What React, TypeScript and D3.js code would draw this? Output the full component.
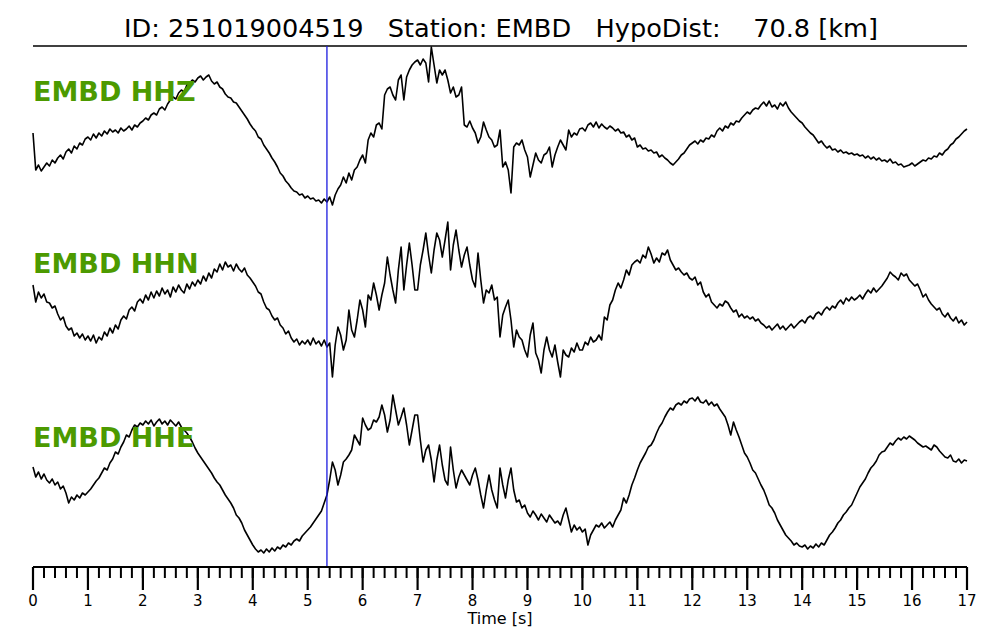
import React from "react";
import * as d3 from "d3";

const TITLE = "ID: 251019004519   Station: EMBD   HypoDist:    70.8 [km]";
const CHANNELS = ["EMBD HHZ", "EMBD HHN", "EMBD HHE"];
const SAMPLE_DT = 0.05; // s
const P_PICK = 5.35; // s
const T_MAX = 17;
const MAJOR_TICKS = d3.range(0, 18, 1);
const MINOR_TICKS = d3.range(0, 85.5, 1).map((i) => i * 0.2);

// amplitude (arbitrary counts, relative to trace centre), sampled every 0.05 s
const HHZ = [
  -8, -45, -40, -46, -42, -38, -41, -35, -38, -33, -30, -34, -27, -24, -28, -21, -24, -18, -20, -14,
  -12, -15, -9, -13, -8, -11, -6, -9, -4, -7, -5, -8, -3, -6, -4, -1, -5, 0, -2, 2,
  4, 7, 5, 10, 12, 10, 16, 18, 15, 21, 25, 28, 26, 32, 35, 33, 40, 42, 45, 43,
  47, 49, 45, 48, 50, 44, 41, 43, 38, 36, 31, 28, 27, 23, 22, 18, 14, 10, 6, 1,
  -3, -6, -12, -14, -20, -24, -28, -33, -37, -42, -48, -51, -56, -59, -63, -66, -67, -70, -69, -73,
  -71, -74, -73, -76, -75, -78, -74, -77, -72, -80, -70, -64, -60, -52, -58, -48, -55, -45, -42, -35,
  -30, -38, -15, -8, -12, 0, 2, -4, 30, 36, 38, 30, 25, 45, 50, 25, 48, 55, 60, 63,
  65, 60, 66, 62, 43, 78, 60, 42, 55, 50, 55, 45, 32, 38, 28, 30, 38, 0, -2, 4,
  -3, -8, -18, -12, 3, -5, -12, -15, -22, -20, -5, -42, -37, -45, -68, -22, -18, -20, -15, -25,
  -32, -52, -40, -28, -35, -38, -30, -28, -22, -42, -30, -22, -15, -20, -25, -5, -12, -8, -10, -4,
  -3, -6, 0, 2, -2, 3, -3, 1, -2, -4, -1, -3, -6, -4, -8, -7, -12, -10, -15, -13,
  -22, -20, -24, -23, -26, -25, -28, -27, -32, -30, -33, -35, -38, -40, -37, -34, -30, -28, -24, -20,
  -18, -16, -19, -15, -17, -13, -14, -10, -12, -6, -3, -6, -1, -3, 2, 0, 4, 3, 7, 10,
  13, 11, 15, 17, 16, 20, 23, 19, 24, 18, 20, 16, 22, 19, 23, 17, 13, 10, 7, 4,
  2, -2, -5, -8, -10, -14, -18, -16, -20, -23, -21, -25, -24, -27, -25, -28, -27, -29, -28, -30,
  -29, -31, -30, -33, -31, -34, -32, -35, -33, -36, -35, -37, -34, -38, -37, -40, -39, -42, -41, -40,
  -38, -41, -39, -37, -35, -36, -33, -34, -31, -32, -28, -30, -26, -24, -20, -18, -14, -12, -9, -6,
  -4,
];

const HHN = [
  15, -2, 8, 2, 6, -2, -3, -8, -6, -14, -20, -17, -26, -30, -28, -36, -33, -38, -34, -40,
  -36, -41, -35, -43, -37, -40, -32, -36, -28, -33, -25, -29, -20, -16, -19, -10, -7, -11, -2, 1,
  -3, 5, 0, 8, 2, 9, 4, 12, 6, 10, 3, 13, 8, 15, 10, 7, 16, 11, 18, 14,
  20, 16, 24, 19, 27, 22, 31, 28, 36, 30, 38, 33, 35, 29, 36, 31, 28, 32, 25, 22,
  18, 14, 8, 6, -2, -8, -10, -16, -20, -18, -25, -28, -34, -31, -38, -42, -39, -45, -41, -44,
  -40, -45, -38, -44, -41, -46, -40, -47, -43, -77, -45, -27, -35, -50, -40, -10, -30, -37, -20, 0,
  -10, -27, 5, 0, 17, 5, -10, 5, 17, 43, 25, 10, -3, 30, 53, 10, 35, 57, 35, 10,
  10, 35, 50, 67, 45, 27, 50, 67, 60, 43, 60, 78, 30, 55, 70, 50, 33, 45, 53, 35,
  20, 13, 47, 20, -3, 10, 7, 15, 0, 3, -37, -15, -7, 0, -20, -47, -30, -37, -40, -50,
  -57, -35, -23, -53, -60, -73, -50, -37, -50, -57, -45, -62, -77, -50, -55, -57, -48, -52, -43, -50,
  -50, -42, -45, -37, -42, -40, -35, -40, -17, -20, -5, 0, 10, 17, 12, 20, 30, 25, 35, 38,
  40, 37, 45, 42, 53, 46, 37, 42, 38, 47, 45, 50, 40, 35, 30, 32, 28, 25, 27, 22,
  20, 23, 15, 18, 8, 3, 6, -2, -5, -8, -4, -6, -1, -3, -8, -12, -10, -17, -14, -18,
  -16, -19, -17, -21, -19, -23, -25, -28, -26, -30, -27, -24, -29, -26, -30, -27, -24, -28, -25, -22,
  -20, -23, -18, -16, -19, -14, -12, -15, -10, -7, -10, -6, -8, -3, 0, -4, 2, -1, 3, 0,
  2, 5, 1, 6, 10, 7, 12, 8, 11, 14, 18, 22, 28, 25, 23, 20, 27, 24, 26, 20,
  17, 14, 16, 10, 3, 6, 0, -4, -7, -10, -8, -14, -17, -13, -18, -21, -17, -23, -20, -25,
  -22,
];

const HHE = [
  8, -2, 3, -4, 1, -5, -8, -4, -10, -7, -14, -11, -18, -28, -22, -25, -20, -23, -18, -20,
  -17, -14, -10, -6, -3, 2, 7, 5, 12, 16, 23, 21, 28, 33, 40, 38, 45, 50, 48, 52,
  50, 54, 51, 55, 49, 53, 56, 51, 54, 50, 55, 52, 49, 53, 48, 45, 42, 38, 33, 27,
  22, 18, 14, 10, 6, 2, -3, -7, -10, -15, -20, -24, -28, -33, -40, -43, -48, -55, -60, -65,
  -70, -74, -77, -75, -78, -74, -77, -73, -76, -72, -74, -70, -72, -68, -70, -66, -64, -66, -61, -58,
  -55, -52, -48, -44, -40, -36, -28, -20, -5, 13, 5, -10, 0, 13, 16, 20, 25, 40, 35, 30,
  57, 50, 45, 47, 55, 53, 58, 70, 60, 43, 55, 80, 65, 50, 58, 67, 50, 30, 45, 60,
  60, 35, 13, 25, 30, 15, -7, 15, 30, 10, -5, -10, 28, 5, -13, -2, 5, 0, -5, -10,
  0, 7, -5, -20, -33, -15, 0, -15, -25, -33, 7, -10, -23, -5, 7, -15, -27, -25, -33, -30,
  -38, -42, -36, -40, -45, -39, -43, -47, -40, -44, -48, -46, -50, -40, -33, -45, -57, -50, -55, -52,
  -57, -54, -70, -60, -55, -50, -52, -48, -53, -50, -47, -52, -45, -40, -35, -23, -28, -20, -10, -3,
  5, 12, 17, 22, 28, 30, 35, 42, 48, 52, 58, 63, 67, 65, 70, 72, 70, 74, 72, 76,
  77, 74, 78, 73, 72, 75, 70, 73, 69, 71, 66, 62, 58, 50, 40, 53, 45, 38, 30, 22,
  18, 12, 5, 2, -4, -10, -15, -22, -30, -33, -38, -45, -50, -55, -60, -63, -66, -70, -68, -71,
  -72, -70, -74, -71, -73, -69, -72, -68, -70, -65, -60, -57, -53, -48, -45, -40, -37, -33, -30, -24,
  -18, -12, -8, -4, 2, 7, 10, 14, 20, 23, 24, 28, 32, 30, 34, 37, 35, 38, 36, 39,
  37, 35, 32, 30, 28, 29, 27, 25, 30, 28, 24, 21, 18, 17, 20, 14, 13, 16, 12, 15,
  14,
];

const TRACES = [HHZ, HHN, HHE];

const W = 1000;
const H = 640;
const M = { left: 33, right: 967, top: 46, axisY: 567 };
const TRACE_CENTERS = [125, 300, 475];
const LABEL_BASELINES = [101, 273, 447];

export default function App() {
  const x = d3.scaleLinear().domain([0, T_MAX]).range([M.left, M.right]);
  const font = "'DejaVu Sans', sans-serif";

  return (
    <svg
      width={W}
      height={H}
      style={{ position: "absolute", left: 0, top: 0, background: "#fff" }}
    >
      <text
        x={501}
        y={37}
        textAnchor="middle"
        fontFamily={font}
        fontSize={25.6}
        style={{ whiteSpace: "pre" }}
        fill="#000"
      >
        {TITLE}
      </text>
      <line x1={M.left} x2={M.right} y1={M.top} y2={M.top} stroke="#000" strokeWidth={1.5} />

      {TRACES.map((tr, k) => {
        const y = d3
          .scaleLinear()
          .domain([-100, 100])
          .range([TRACE_CENTERS[k] + 100, TRACE_CENTERS[k] - 100]);
        const line = d3
          .line<number>()
          .x((_, i) => x(i * SAMPLE_DT))
          .y((d) => y(d));
        return (
          <path
            key={k}
            d={line(tr) || ""}
            fill="none"
            stroke="#000"
            strokeWidth={1.6}
            strokeLinejoin="round"
          />
        );
      })}

      {CHANNELS.map((c, k) => (
        <text
          key={c}
          x={M.left}
          y={LABEL_BASELINES[k]}
          fontFamily={font}
          fontWeight="bold"
          fontSize={27}
          fill="#4c9a00"
        >
          {c}
        </text>
      ))}

      <line
        x1={x(P_PICK)}
        x2={x(P_PICK)}
        y1={M.top}
        y2={M.axisY}
        stroke="#1a1adf"
        strokeWidth={1.3}
      />

      <line x1={M.left} x2={M.right} y1={M.axisY} y2={M.axisY} stroke="#000" strokeWidth={2} />
      {MINOR_TICKS.map((t, i) => (
        <line
          key={"m" + i}
          x1={x(t)}
          x2={x(t)}
          y1={M.axisY}
          y2={M.axisY + 11}
          stroke="#000"
          strokeWidth={2}
        />
      ))}
      {MAJOR_TICKS.map((t) => (
        <g key={"M" + t}>
          <line x1={x(t)} x2={x(t)} y1={M.axisY} y2={M.axisY + 23} stroke="#000" strokeWidth={2.2} />
          <text
            x={x(t)}
            y={606}
            textAnchor="middle"
            fontFamily={font}
            fontSize={15}
            fill="#000"
          >
            {t}
          </text>
        </g>
      ))}
      <text x={500} y={624} textAnchor="middle" fontFamily={font} fontSize={16} fill="#000">
        Time [s]
      </text>
    </svg>
  );
}
